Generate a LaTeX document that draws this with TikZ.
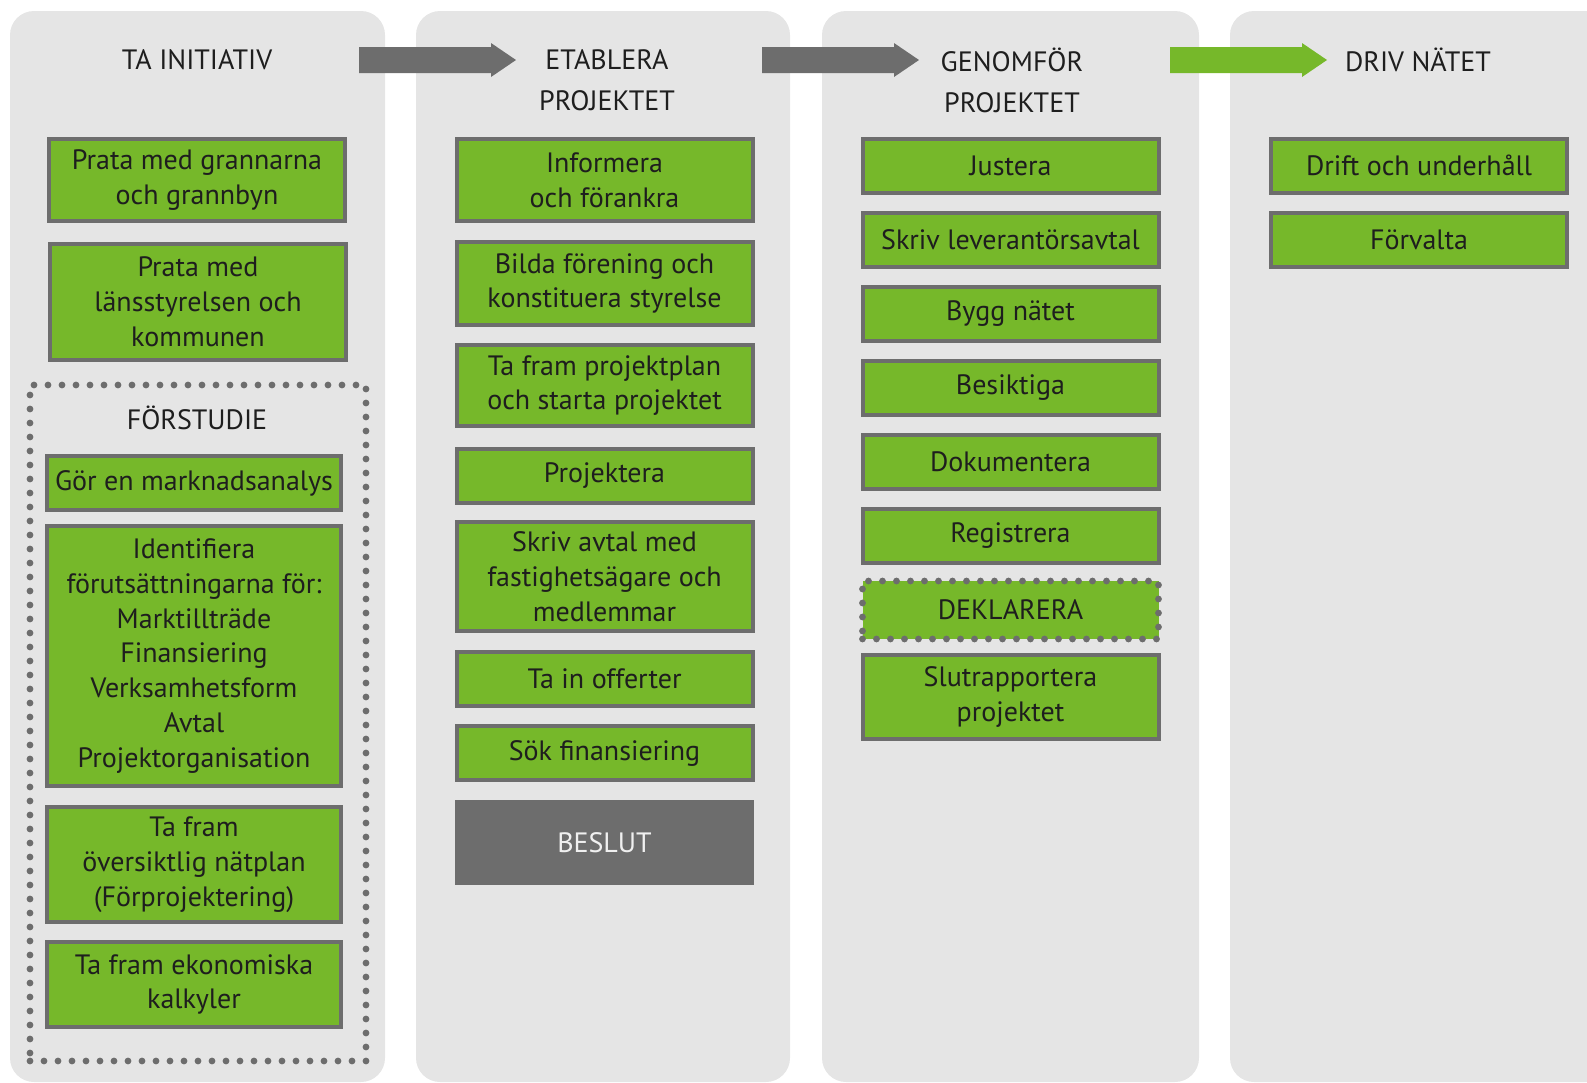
\documentclass[tikz,border=0pt]{standalone}
\usepackage{fontspec}
\setmainfont{PT Sans}
\definecolor{colbg}{HTML}{E5E5E5}
\definecolor{boxgreen}{HTML}{76B82A}
\definecolor{boxgray}{HTML}{6D6D6D}
\definecolor{txt}{HTML}{1E1E1E}
\tikzset{
  box/.style={draw=boxgray, line width=2pt, fill=boxgreen, text=txt, align=center,
    minimum width=148pt, minimum height=27pt, inner sep=0pt,
    font=\fontsize{14}{17.4}\selectfont},
  dotline/.style={draw=boxgray, line width=3.4pt, line cap=round, dash pattern=on 0pt off 7pt},
  header/.style={text=txt, align=center, font=\fontsize{14}{20.5}\selectfont},
  column/.style={fill=colbg, rounded corners=12pt},
}
\begin{document}
\begin{tikzpicture}[x=0.5pt, y=-0.5pt]
    \useasboundingbox (0,0) rectangle (1587,1083);
    % columns
    \foreach \xa/\xb in {10/385, 416/790, 822/1199, 1230/1640}
        \fill[column] (\xa,11) rectangle (\xb,1082);
    % stage arrows
    \foreach \xa/\clr in {359/boxgray, 762/boxgray, 1170/boxgreen}
        \fill[\clr] (\xa,47) -- ++(132,0) -- ++(0,-4) -- ++(25,17) -- ++(-25,17)
            -- ++(0,-4) -- ++(-132,0) -- cycle;

    % headers
    \node[header] (h1) at (197,60) {TA INITIATIV};
    \node[header] (h2) at (607,80.5) {ETABLERA\\PROJEKTET};
    \node[header] (h3) at (1012,80.5) {GENOMFÖR\\PROJEKTET};
    \node[header] (h4) at (1418,60) {DRIV NÄTET};

    % ta initiativ
    \node[box, minimum height=41pt] (t1) at (197,180) {Prata med grannarna\\och grannbyn};
    \node[box, minimum height=58pt] (t2) at (198,302) {Prata med\\länsstyrelsen och\\kommunen};
    \node[dotline, minimum width=168pt, minimum height=338pt] (fs) at (198,723) {};
    \node[header] (fsh) at (197,418) {FÖRSTUDIE};
    \node[box, minimum width=147pt] (f1) at (194,483) {Gör en marknadsanalys};
    \node[box, minimum width=147pt, minimum height=130pt] (f2) at (194,656)
        {Identifiera\\förutsättningarna för:\\Marktillträde\\Finansiering\\Verksamhetsform\\Avtal\\Projektorganisation};
    \node[box, minimum width=147pt, minimum height=57.5pt] (f3) at (194,864.5) {Ta fram\\översiktlig nätplan\\(Förprojektering)};
    \node[box, minimum width=147pt, minimum height=42.5pt] (f4) at (194,984.5) {Ta fram ekonomiska\\kalkyler};

    % etablera projektet
    \node[box, minimum height=41pt] (e1) at (604.5,180) {Informera\\och förankra};
    \node[box, minimum height=41.5pt] (e2) at (604.5,283.5) {Bilda förening och\\konstituera styrelse};
    \node[box, minimum height=40.5pt] (e3) at (604.5,385.5) {Ta fram projektplan\\och starta projektet};
    \node[box] (e4) at (604.5,475.5) {Projektera};
    \node[box, minimum height=54.5pt] (e5) at (604.5,576.5) {Skriv avtal med\\fastighetsägare och\\medlemmar};
    \node[box] (e6) at (604.5,679) {Ta in offerter};
    \node[box] (e7) at (604.5,753) {Sök finansiering};
    \node[box, draw=none, fill=boxgray, text=white!94!black, minimum width=149.5pt, minimum height=42.5pt] (beslut) at (604.5,842.5) {BESLUT};

    % genomför projektet
    \foreach \t [count=\i] in {Justera, Skriv leverantörsavtal, Bygg nätet, Besiktiga, Dokumentera, Registrera}
        \node[box] (g\i) at (1010.5,{165.5+74*(\i-1)}) {\t};
    \node[box, dotline, minimum height=29pt] (dekl) at (1010.5,610) {DEKLARERA};
    \node[box, minimum height=42pt] (slut) at (1010.5,697) {Slutrapportera\\projektet};

    % driv nätet
    \node[box] (d1) at (1419,165.5) {Drift och underhåll};
    \node[box] (d2) at (1419,240) {Förvalta};
\end{tikzpicture}
\end{document}
